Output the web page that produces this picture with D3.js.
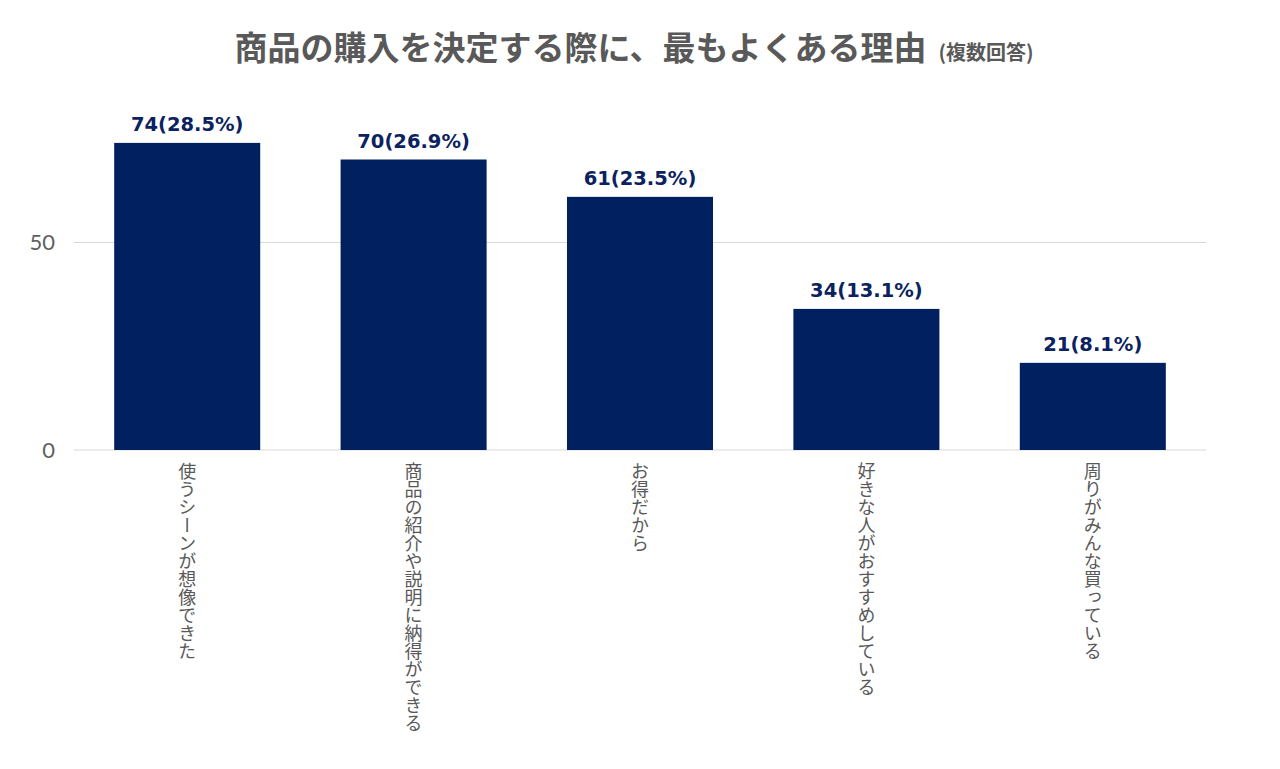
<!DOCTYPE html>
<html>
<head>
<meta charset="utf-8">
<script src="https://cdn.jsdelivr.net/npm/d3@7"></script>
<style>
  body { margin: 0; background: #fff; }
  svg { display: block; }
</style>
</head>
<body>
<svg id="chart"></svg>
<script>
'use strict';

const categories = ['使うシーンが想像できた', '商品の紹介や説明に納得ができる', 'お得だから', '好きな人がおすすめしている', '周りがみんな買っている'];
const counts = [74, 70, 61, 34, 21];
const shares = ['28.5%', '26.9%', '23.5%', '13.1%', '8.1%'];
const yTicks = [0, 50];

const width = 1280, height = 769;
const margin = { left: 74, right: 74, top: 118, bottom: 319 };

const svg = d3.select('#chart')
    .attr('width', width)
    .attr('height', height);

// title
const title = svg.append('text')
    .attr('x', 634)
    .attr('y', 60)
    .attr('text-anchor', 'middle')
    .style('font-family', '"Noto Sans CJK JP", sans-serif')
    .style('font-weight', 700)
    .style('fill', '#595959');
title.append('tspan')
    .style('font-size', '33px')
    .text('商品の購入を決定する際に、最もよくある理由');
title.append('tspan')
    .style('font-size', '20px')
    .attr('dx', 12)
    .text('(複数回答)');

const x = d3.scaleBand()
    .domain(categories)
    .range([margin.left, width - margin.right])
    .paddingInner(0.355)
    .paddingOuter(0.1775);

const y = d3.scaleLinear()
    .domain([0, 80])
    .range([height - margin.bottom, height - margin.bottom - 80 * 4.15]);

// grid lines
svg.append('g')
    .selectAll('line')
    .data(yTicks)
    .join('line')
    .attr('x1', margin.left)
    .attr('x2', width - margin.right)
    .attr('y1', d => y(d))
    .attr('y2', d => y(d))
    .style('stroke', '#d9d9d9')
    .style('stroke-width', 1);

// y axis labels
svg.append('g')
    .selectAll('text')
    .data(yTicks)
    .join('text')
    .attr('x', 55)
    .attr('y', d => y(d))
    .attr('dy', '0.35em')
    .attr('text-anchor', 'end')
    .style('font-family', 'Lato, "Noto Sans", sans-serif')
    .style('font-size', '22px')
    .style('font-weight', 400)
    .style('fill', '#5f5f5f')
    .text(d => d);

// bars
svg.append('g')
    .selectAll('rect')
    .data(counts)
    .join('rect')
    .attr('x', (d, i) => x(categories[i]))
    .attr('y', d => y(d))
    .attr('width', x.bandwidth())
    .attr('height', d => y(0) - y(d))
    .style('fill', '#002060');

// value labels
svg.append('g')
    .selectAll('text')
    .data(counts)
    .join('text')
    .attr('x', (d, i) => x(categories[i]) + x.bandwidth() / 2)
    .attr('y', d => y(d) - 12)
    .attr('text-anchor', 'middle')
    .style('font-family', '"DejaVu Sans", sans-serif')
    .style('font-weight', 700)
    .style('font-size', '19.5px')
    .style('fill', '#0b2260')
    .text((d, i) => `${d}(${shares[i]})`);

// category labels, vertical
svg.append('g')
    .selectAll('text')
    .data(categories)
    .join('text')
    .attr('x', d => x(d) + x.bandwidth() / 2)
    .attr('y', y(0) + 12)
    .style('writing-mode', 'vertical-rl')
    .style('font-family', '"Noto Sans CJK JP", sans-serif')
    .style('font-size', '18px')
    .style('fill', '#595959')
    .text(d => d);
</script>
</body>
</html>
